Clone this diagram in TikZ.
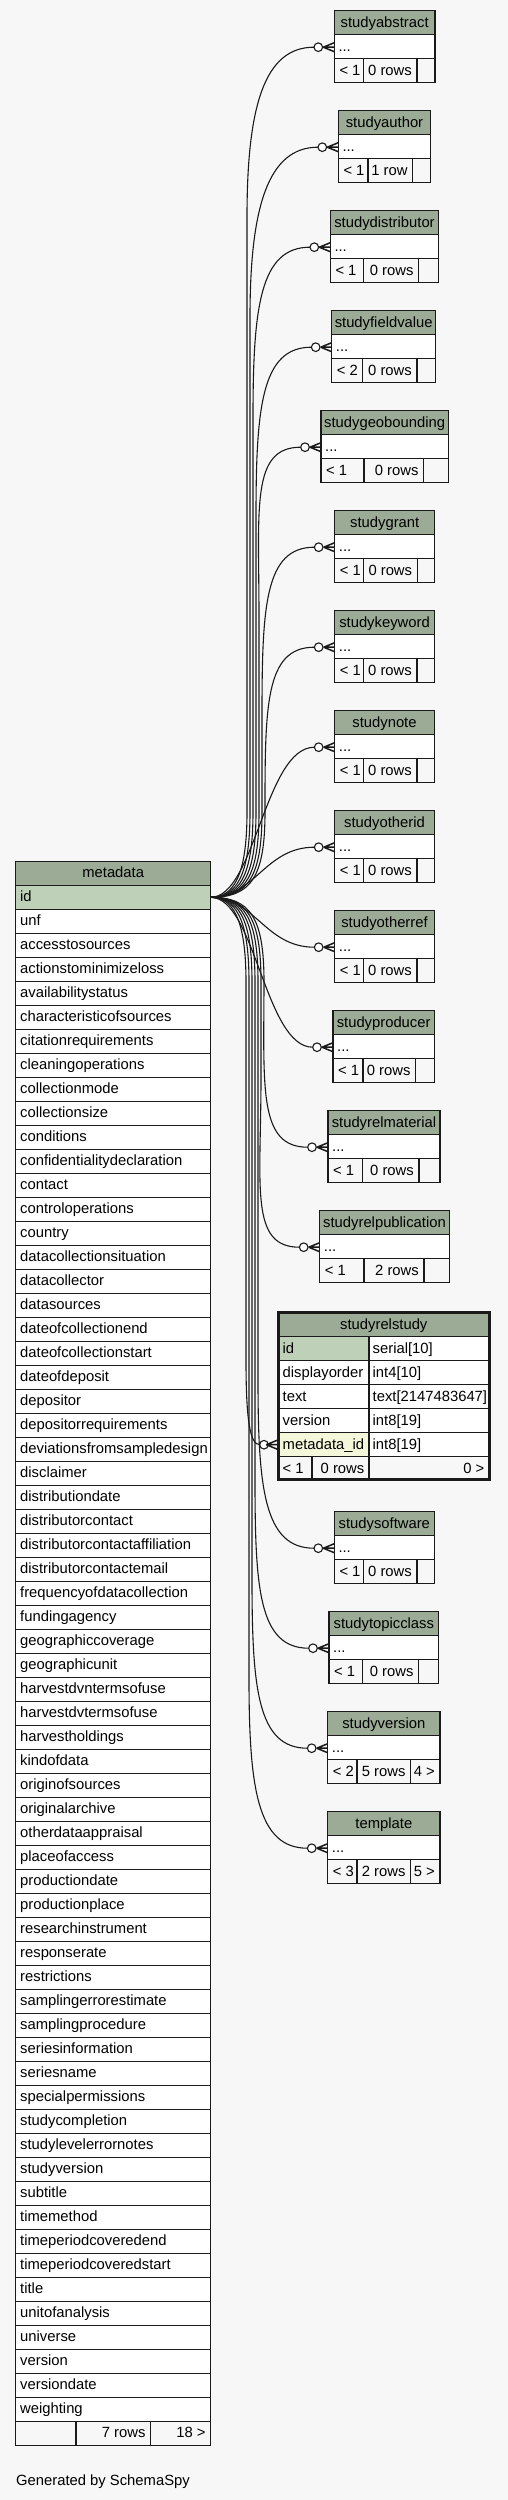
\documentclass[tikz,border=0pt]{standalone}
\usepackage{fontspec}
\setmainfont{Liberation Sans}
\usetikzlibrary{calc}
\definecolor{bgc}{HTML}{F7F7F7}
\definecolor{hdr}{HTML}{9BAB96}
\definecolor{pk}{HTML}{BED1B8}
\definecolor{fk}{HTML}{F4F7DA}
\definecolor{ln}{HTML}{1A1A1A}
\newcommand{\fs}{\fontsize{14.8}{18}\selectfont}
\tikzset{
  tl/.style={draw=ln,line width=1.3pt},
  txt/.style={inner sep=0pt,font=\fs,text=black},
  rel/.style={draw=ln,line width=1.1pt},
  crowline/.style={draw=ln,line width=1.5pt},
}
% #1 name, #2 L, #3 R, #4 top, #5 c1, #6 c2, #7 f1, #8 f2, #9 f3
\newcommand{\smalltab}[9]{%
  \fill[hdr] (#2,#4) rectangle (#3,#4+24);
  \fill[white] (#2,#4+24) rectangle (#3,#4+48);
  \fill[bgc] (#2,#4+48) rectangle (#3,#4+72);
  \draw[tl] (#2,#4+24) -- (#3,#4+24) (#2,#4+48) -- (#3,#4+48)
            (#5,#4+48) -- (#5,#4+72) (#6,#4+48) -- (#6,#4+72);
  \draw[tl] (#2,#4) rectangle (#3,#4+72);
  \node[txt,anchor=base] (#1) at ({(#2+#3)/2},#4+16.5) {#1};
  \node[txt,anchor=base west] (#1-r) at (#2+4,#4+40.5) {...};
  \node[txt,anchor=base west] (#1-f1) at (#2+5,#4+64.5) {#7};
  \node[txt,anchor=base east] (#1-f2) at (#6-5,#4+64.5) {#8};
  \node[txt,anchor=base east] (#1-f3) at (#3-5,#4+64.5) {#9};
  \coordinate (#1-c) at (#2-20.3,#4+36.5);
}
% edges: #1 name, #2 trunk x, #3 target y, #4 circle-left x
\newcommand{\relup}[4]{%
  \draw[rel] (mdid) .. controls (#2-14,897.3) and (#2,877) .. (#2,812)
    -- (#2,#3+170) .. controls (#2,#3+60) and (#4-50,#3) .. (#1-c);
}
\newcommand{\reldown}[4]{%
  \draw[rel] (mdid) .. controls (#2-14,897.3) and (#2,917) .. (#2,982)
    -- (#2,#3-170) .. controls (#2,#3-60) and (#4-50,#3) .. (#1-c);
}
\newcommand{\relnear}[2]{%
  \draw[rel] (mdid) .. controls (255,897.3) and (265,#2) .. (#1-c);
}
% zero-or-many end: #1 name, #2 prong length
\newcommand{\crowend}[2]{%
  \draw[tl,line width=1.1pt,fill=white] ([xshift=4.3pt]#1-c) circle (4.3pt);
  \draw[crowline] ([xshift=#2pt-11pt]#1-c) -- ([xshift=#2pt,yshift=4.5pt]#1-c)
                  ([xshift=#2pt-11pt]#1-c) -- ([xshift=#2pt]#1-c)
                  ([xshift=#2pt-11pt]#1-c) -- ([xshift=#2pt,yshift=-4.5pt]#1-c);
}
\begin{document}
\begin{tikzpicture}[x=1pt,y=-1pt]
\useasboundingbox (0,0) rectangle (508,2500);
\fill[bgc] (0,0) rectangle (508,2500);

% ---------- metadata ----------
\fill[hdr] (15.7,861.3) rectangle (210.7,885.3);
\draw[tl] (15.7,861.3) rectangle (210.7,885.3);
\node[txt,anchor=base] (metadata) at (113.2,877.8) {metadata};
\draw[tl,fill=pk] (15.7,885.3) rectangle (210.7,909.3);
\node[txt,anchor=base west] (md-id) at (20,901.8) {id};
\coordinate (mdid) at (210.7,897.3);
\foreach \t [count=\i] in {unf,accesstosources,actionstominimizeloss,availabilitystatus,characteristicofsources,citationrequirements,cleaningoperations,collectionmode,collectionsize,conditions,confidentialitydeclaration,contact,controloperations,country,datacollectionsituation,datacollector,datasources,dateofcollectionend,dateofcollectionstart,dateofdeposit,depositor,depositorrequirements,deviationsfromsampledesign,disclaimer,distributiondate,distributorcontact,distributorcontactaffiliation,distributorcontactemail,frequencyofdatacollection,fundingagency,geographiccoverage,geographicunit,harvestdvntermsofuse,harvestdvtermsofuse,harvestholdings,kindofdata,originofsources,originalarchive,otherdataappraisal,placeofaccess,productiondate,productionplace,researchinstrument,responserate,restrictions,samplingerrorestimate,samplingprocedure,seriesinformation,seriesname,specialpermissions,studycompletion,studylevelerrornotes,studyversion,subtitle,timemethod,timeperiodcoveredend,timeperiodcoveredstart,title,unitofanalysis,universe,version,versiondate,weighting}{
  \pgfmathsetmacro{\yy}{909.3+24*(\i-1)}
  \draw[tl,fill=white] (15.7,\yy) rectangle (210.7,\yy+24);
  \node[txt,anchor=base west] (md-\i) at (20,\yy+16.5) {\t};
}
\fill[bgc] (15.7,2421.3) rectangle (210.7,2445.3);
\draw[tl] (15.7,2421.3) rectangle (210.7,2445.3) (76,2421.3) -- (76,2445.3) (150.7,2421.3) -- (150.7,2445.3);
\node[txt,anchor=base east] (md-f2) at (145.7,2437.8) {7 rows};
\node[txt,anchor=base east] (md-f3) at (205.7,2437.8) {18 >};

\node[txt,anchor=base west] (footer) at (16,2485) {Generated by SchemaSpy};

% ---------- small tables ----------
\smalltab{studyabstract}{334.3}{435}{10.7}{363.7}{417}{< 1}{0 rows}{}
\smalltab{studyauthor}{338.3}{430.7}{110.7}{368}{412.7}{< 1}{1 row}{}
\smalltab{studydistributor}{330.3}{438.7}{210.7}{363.7}{418.7}{< 1}{0 rows}{}
\smalltab{studyfieldvalue}{331.7}{435.7}{310.7}{362.7}{417}{< 2}{0 rows}{}
\smalltab{studygeobounding}{321}{448.3}{410.7}{364}{423.7}{< 1}{0 rows}{}
\smalltab{studygrant}{334.7}{434.7}{510.7}{363.3}{417.3}{< 1}{0 rows}{}
\smalltab{studykeyword}{334.7}{434.3}{610.7}{363.7}{417}{< 1}{0 rows}{}
\smalltab{studynote}{334.7}{434.3}{710.7}{363.7}{417}{< 1}{0 rows}{}
\smalltab{studyotherid}{334.7}{434.3}{810.7}{363.7}{417}{< 1}{0 rows}{}
\smalltab{studyotherref}{334.7}{434.3}{910.7}{363.7}{417}{< 1}{0 rows}{}
\smalltab{studyproducer}{333}{434.3}{1010.7}{363}{415.7}{< 1}{0 rows}{}
\smalltab{studyrelmaterial}{328}{440}{1110.7}{362.7}{419}{< 1}{0 rows}{}
\smalltab{studyrelpublication}{319.7}{449.3}{1210.7}{364}{424}{< 1}{2 rows}{}
\smalltab{studysoftware}{334.3}{434.3}{1511.7}{363.7}{417}{< 1}{0 rows}{}
\smalltab{studytopicclass}{329}{438.7}{1611.7}{362.7}{418.7}{< 1}{0 rows}{}
\smalltab{studyversion}{327.7}{440}{1711.7}{357}{410.7}{< 2}{5 rows}{4 >}
\smalltab{template}{327.7}{440}{1811.7}{357}{410.7}{< 3}{2 rows}{5 >}

% ---------- studyrelstudy ----------
\fill[hdr] (278.3,1312.7) rectangle (489.3,1336.7);
\fill[pk] (278.3,1336.7) rectangle (369,1360.7);
\fill[white] (369,1336.7) rectangle (489.3,1456.7);
\fill[white] (278.3,1360.7) rectangle (369,1432.7);
\fill[fk] (278.3,1432.7) rectangle (369,1456.7);
\fill[bgc] (278.3,1456.7) rectangle (489.3,1479.7);
\foreach \yy in {1336.7,1360.7,1384.7,1408.7,1432.7,1456.7}{
  \draw[tl] (278.3,\yy) -- (489.3,\yy);
}
\draw[tl] (369,1336.7) -- (369,1479.7) (312,1456.7) -- (312,1479.7);
\draw[draw=ln,line width=3pt] (278.3,1312.7) rectangle (489.3,1479.7);
\node[txt,anchor=base] (studyrelstudy) at (383.8,1329.2) {studyrelstudy};
\node[txt,anchor=base west] (rs-id) at (282.5,1353.2) {id};
\node[txt,anchor=base west] (rs-idt) at (372.5,1353.2) {serial[10]};
\node[txt,anchor=base west] (rs-do) at (282.5,1377.2) {displayorder};
\node[txt,anchor=base west] (rs-dot) at (372.5,1377.2) {int4[10]};
\node[txt,anchor=base west] (rs-tx) at (282.5,1401.2) {text};
\node[txt,anchor=base west] (rs-txt) at (372.5,1401.2) {text[2147483647]};
\node[txt,anchor=base west] (rs-ve) at (282.5,1425.2) {version};
\node[txt,anchor=base west] (rs-vet) at (372.5,1425.2) {int8[19]};
\node[txt,anchor=base west] (rs-mi) at (282.5,1449.2) {metadata\_id};
\node[txt,anchor=base west] (rs-mit) at (372.5,1449.2) {int8[19]};
\node[txt,anchor=base west] (rs-f1) at (282.5,1473) {< 1};
\node[txt,anchor=base east] (rs-f2) at (364.5,1473) {0 rows};
\node[txt,anchor=base east] (rs-f3) at (484.5,1473) {0 >};
\coordinate (studyrelstudy-c) at (259.7,1444.7);

% ---------- relationships ----------
\relup{studyabstract}{247}{47.2}{314}
\relup{studyauthor}{250}{147.2}{318}
\relup{studydistributor}{253}{247.2}{310}
\relup{studyfieldvalue}{256}{347.2}{311.4}
\relup{studygeobounding}{259}{447.2}{300.7}
\relup{studygrant}{262}{547.2}{314.4}
\relup{studykeyword}{265}{647.2}{314.4}
\relnear{studynote}{747.2}
\relnear{studyotherid}{847.2}
\relnear{studyotherref}{947.2}
\relnear{studyproducer}{1047.2}
\reldown{studyrelmaterial}{264}{1147.2}{307.7}
\reldown{studyrelpublication}{261}{1247.2}{299.4}
\draw[rel] (mdid) .. controls (232,897.3) and (246,917) .. (246,982)
  -- (246,1360) .. controls (246,1420) and (250,1444.7) .. (studyrelstudy-c);
\reldown{studysoftware}{258}{1548.2}{314}
\reldown{studytopicclass}{255}{1648.2}{308.7}
\reldown{studyversion}{252}{1748.2}{307.4}
\reldown{template}{249}{1848.2}{307.4}

\foreach \n in {studyabstract,studyauthor,studydistributor,studyfieldvalue,studygeobounding,studygrant,studykeyword,studynote,studyotherid,studyotherref,studyproducer,studyrelmaterial,studyrelpublication,studysoftware,studytopicclass,studyversion,template}{
  \crowend{\n}{20.3}
}
\crowend{studyrelstudy}{17.6}
\end{tikzpicture}
\end{document}
